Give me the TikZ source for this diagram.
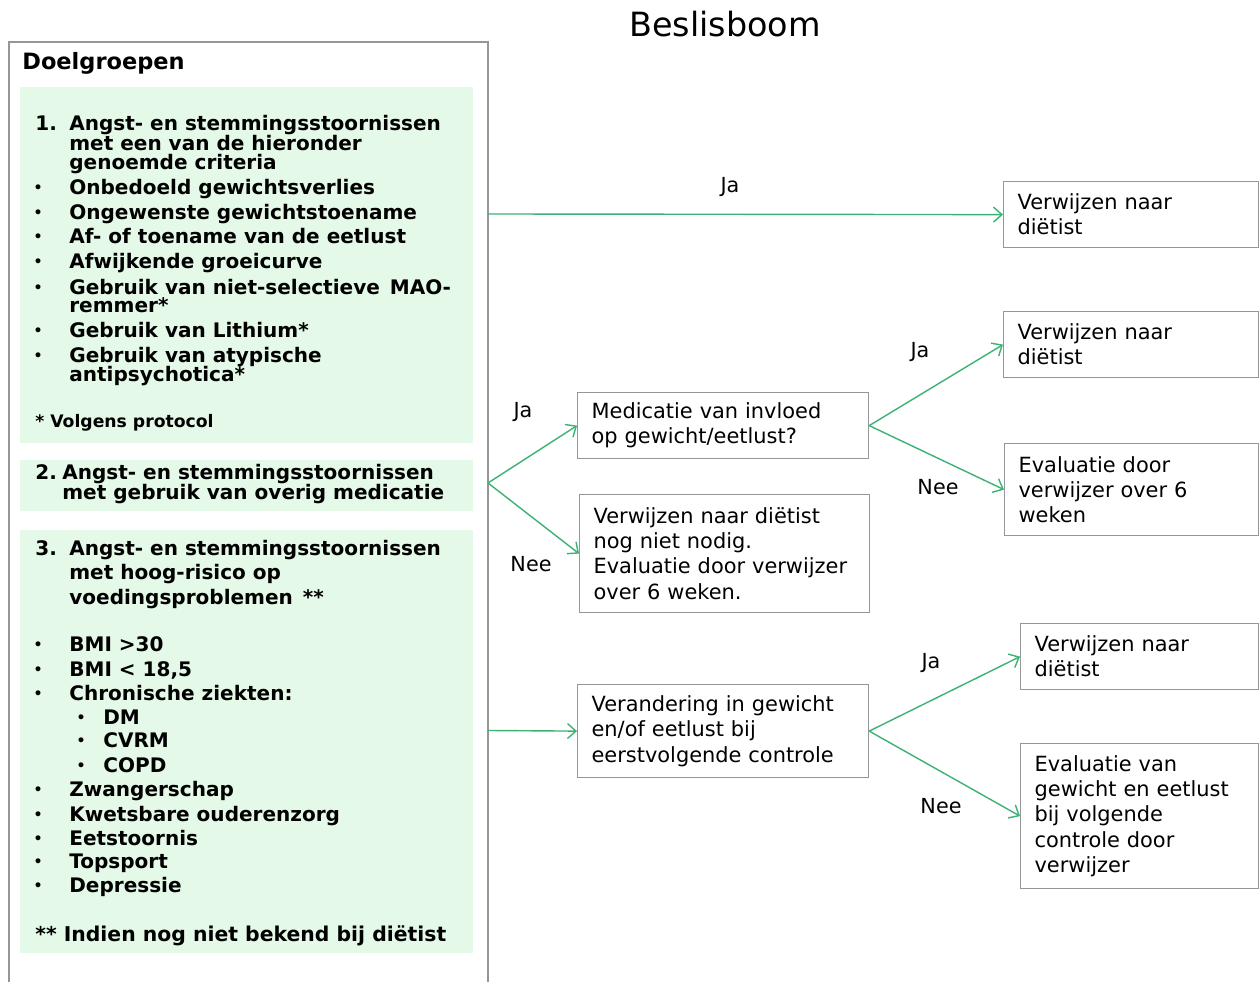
\documentclass[tikz,border=0pt]{standalone}
\usepackage{fontspec}
\setmainfont{DejaVu Sans}
\usetikzlibrary{arrows.meta,positioning}

\definecolor{mint}{RGB}{228,249,231}
\definecolor{pijlgroen}{RGB}{60,178,116}
\definecolor{randgrijs}{RGB}{150,150,150}
\newcommand{\pxl}{0.02cm}
\newcommand{\boxfont}{\fontsize{11.9}{14.3}\selectfont}
\newcommand{\lstfont}{\fontsize{11.4}{13}\selectfont\bfseries}

\tikzset{
  verw/.style={draw=randgrijs, line width=0.7pt, fill=white, align=left,
    anchor=north west, inner xsep=14*\pxl, inner ysep=0pt, font=\boxfont},
  pijl/.style={draw=pijlgroen, line width=0.8pt, -{Straight Barb[length=1.7mm,width=3mm]}},
  lbl/.style={font=\fontsize{11.8}{14}\selectfont, inner sep=0pt},
  lst/.style={font=\lstfont, anchor=base west, inner sep=0pt},
  bol/.style={font=\fontsize{8}{9}\selectfont\bfseries, anchor=base, inner sep=0pt, yshift=1.2pt},
}

\begin{document}
\begin{tikzpicture}[x=\pxl, y=-\pxl]
    \useasboundingbox (0,0) rectangle (1259,982);
    \fill[white] (0,0) rectangle (1259,982);

    % Titel
    \node[font=\fontsize{19}{22}\selectfont, anchor=base] (titel) at (725,37) {Beslisboom};

    % Kader doelgroepen
    \draw[randgrijs, line width=0.7pt] (9,982) -- (9,42) -- (488,42) -- (488,982);
    \node[font=\fontsize{12.8}{15}\selectfont\bfseries, anchor=base west, inner sep=0pt] (kop) at (22,70) {Doelgroepen};
    \fill[mint] (20,87) rectangle (473,443);
    \fill[mint] (20,460) rectangle (473,511);
    \fill[mint] (20,530) rectangle (473,953);

    % Groep 1
    \node[lst] (nr1) at (35,131) {1.};
    \foreach \yy/\txt [count=\i] in {131/Angst- en stemmingsstoornissen, 151/met een van de hieronder,
        170/genoemde criteria, 313/remmer*, 382/antipsychotica*}
        \node[lst] (g1t\i) at (69,\yy) {\txt};
    \foreach \yy/\txt [count=\i] in {195/Onbedoeld gewichtsverlies, 220/Ongewenste gewichtstoename,
        244/Af- of toename van de eetlust, 269/Afwijkende groeicurve,
        295/Gebruik van niet-selectieve\hspace{0.5em}MAO-, 338/Gebruik van Lithium*,
        363/Gebruik van atypische}
    {
        \node[bol] (g1b\i) at (38,\yy) {•};
        \node[lst] (g1i\i) at (69,\yy) {\txt};
    }
    \node[lst, font=\fontsize{9.8}{12}\selectfont\bfseries] (voetnoot1) at (35,428) {* Volgens protocol};

    % Groep 2
    \node[lst] (nr2) at (35,480) {2.};
    \node[lst] (g2a) at (62,480) {Angst- en stemmingsstoornissen};
    \node[lst] (g2b) at (62,500) {met gebruik van overig medicatie};

    % Groep 3
    \node[lst] (nr3) at (35,556) {3.};
    \foreach \yy/\txt [count=\i] in {556/Angst- en stemmingsstoornissen, 580/met hoog-risico op,
        605/voedingsproblemen\hspace{0.5em}**}
        \node[lst] (g3t\i) at (69,\yy) {\txt};
    \foreach \yy/\txt [count=\i] in {652/BMI >30, 677/{BMI < 18,5}, 701/Chronische ziekten:,
        797/Zwangerschap, 822/Kwetsbare ouderenzorg, 846/Eetstoornis, 869/Topsport, 893/Depressie}
    {
        \node[bol] (g3b\i) at (38,\yy) {•};
        \node[lst] (g3i\i) at (69,\yy) {\txt};
    }
    \foreach \yy/\txt [count=\i] in {725/DM, 748/CVRM, 773/COPD}
    {
        \node[bol] (g3s\i) at (81,\yy) {•};
        \node[lst] (g3z\i) at (103,\yy) {\txt};
    }
    \node[lst, font=\fontsize{11.6}{14}\selectfont\bfseries] (voetnoot2) at (35,942) {** Indien nog niet bekend bij diëtist};

    % Beslisvakken
    \node[verw, text width=227*\pxl, minimum height=66*\pxl] (vA) at (1003,181) {Verwijzen naar\\diëtist};
    \node[verw, text width=227*\pxl, minimum height=66*\pxl] (vB) at (1003,311) {Verwijzen naar\\diëtist};
    \node[verw, text width=226*\pxl, minimum height=92*\pxl] (evC) at (1004,443) {Evaluatie door\\verwijzer over 6\\weken};
    \node[verw, text width=263*\pxl, minimum height=66*\pxl] (med) at (577,392) {Medicatie van invloed\\op gewicht/eetlust?};
    \node[verw, text width=262*\pxl, minimum height=118*\pxl] (nn) at (579,494)
        {Verwijzen naar diëtist\\nog niet nodig.\\Evaluatie door verwijzer\\over 6 weken.};
    \node[verw, text width=263*\pxl, minimum height=93*\pxl] (ver) at (577,684)
        {Verandering in gewicht\\en/of eetlust bij\\eerstvolgende controle};
    \node[verw, text width=210*\pxl, minimum height=66*\pxl] (vG) at (1020,623) {Verwijzen naar\\diëtist};
    \node[verw, text width=210*\pxl, minimum height=145*\pxl] (evH) at (1020,743)
        {Evaluatie van\\gewicht en eetlust\\bij volgende\\controle door\\verwijzer};

    % Pijlen
    \coordinate (u1) at (488,214);
    \coordinate (u2) at (488,483);
    \coordinate (u3) at (488,730.5);
    \draw[pijl] (u1) -- (vA.west);
    \draw[pijl] (u2) -- (med.west);
    \draw[pijl] (u2) -- (nn.west);
    \draw[pijl] (med.east) -- (vB.west);
    \draw[pijl] (med.east) -- (evC.west);
    \draw[pijl] (u3) -- (ver.west);
    \draw[pijl] (ver.east) -- (vG.west);
    \draw[pijl] (ver.east) -- (evH.west);

    % Labels
    \node[lbl] (ja1) at (730,187) {Ja};
    \node[lbl] (ja2) at (523,412) {Ja};
    \node[lbl] (nee1) at (531,564) {Nee};
    \node[lbl] (ja3) at (920,352) {Ja};
    \node[lbl] (nee2) at (938,487) {Nee};
    \node[lbl] (ja4) at (931,663) {Ja};
    \node[lbl] (nee3) at (941,806) {Nee};
\end{tikzpicture}
\end{document}
